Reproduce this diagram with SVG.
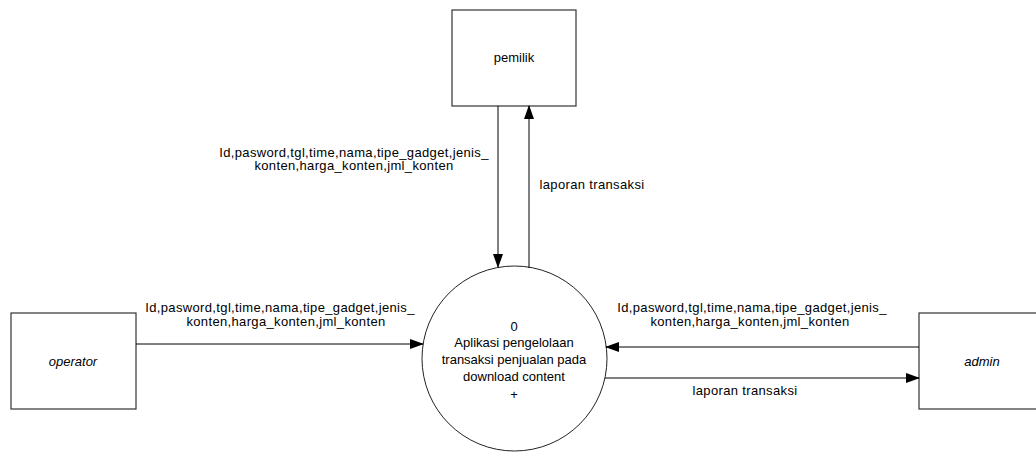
<svg xmlns="http://www.w3.org/2000/svg" width="1036" height="455" viewBox="0 0 1036 455">
<style>
.box{fill:#fff;stroke:#333;stroke-width:1.2}
.proc{fill:#fff;stroke:#222;stroke-width:1}
.ln{fill:none;stroke:#000;stroke-width:1;marker-end:url(#ah)}
text{font-family:"Liberation Sans",Arial,sans-serif;font-size:13px;fill:#000;text-anchor:middle}
.it{font-style:italic}
.lb{letter-spacing:0.35px}
</style>
<defs>
<marker id="ah" markerWidth="14" markerHeight="10" refX="13" refY="5" orient="auto" markerUnits="userSpaceOnUse">
<path d="M0,0 L14,5 L0,10 z" fill="#000"/>
</marker>
</defs>
<rect width="1036" height="455" fill="#fff"/>
<g id="pemilik"><rect class="box" x="452" y="10" width="124" height="96"/><text x="514" y="62">pemilik</text></g>
<g id="operator"><rect class="box" x="11" y="313" width="125" height="96"/><text class="it" x="73" y="366">operator</text></g>
<g id="admin"><rect class="box" x="919" y="313" width="125" height="96"/><text class="it" x="982" y="366">admin</text></g>
<g id="proses"><circle class="proc" cx="514.5" cy="358.5" r="92.5"/>
<text x="514" y="331">0</text>
<text x="514" y="347">Aplikasi pengelolaan</text>
<text x="514" y="364">transaksi penjualan pada</text>
<text x="514" y="381">download content</text>
<text x="514" y="399">+</text></g>
<g id="connectors">
<line class="ln" x1="498" y1="106" x2="498" y2="267"/>
<line class="ln" x1="529" y1="268" x2="529" y2="106"/>
<line class="ln" x1="136" y1="344" x2="423" y2="344"/>
<line class="ln" x1="919" y1="347" x2="606" y2="347"/>
<line class="ln" x1="605" y1="378" x2="919" y2="378"/>
<text class="lb" x="354" y="157">Id,pasword,tgl,time,nama,tipe_gadget,jenis_</text>
<text class="lb" x="354" y="170">konten,harga_konten,jml_konten</text>
<text class="lb" x="280" y="312">Id,pasword,tgl,time,nama,tipe_gadget,jenis_</text>
<text class="lb" x="286" y="326">konten,harga_konten,jml_konten</text>
<text class="lb" x="752" y="312">Id,pasword,tgl,time,nama,tipe_gadget,jenis_</text>
<text class="lb" x="750" y="326">konten,harga_konten,jml_konten</text>
<text class="lb" x="592" y="189">laporan transaksi</text>
<text class="lb" x="745" y="395">laporan transaksi</text>
</g>
</svg>
